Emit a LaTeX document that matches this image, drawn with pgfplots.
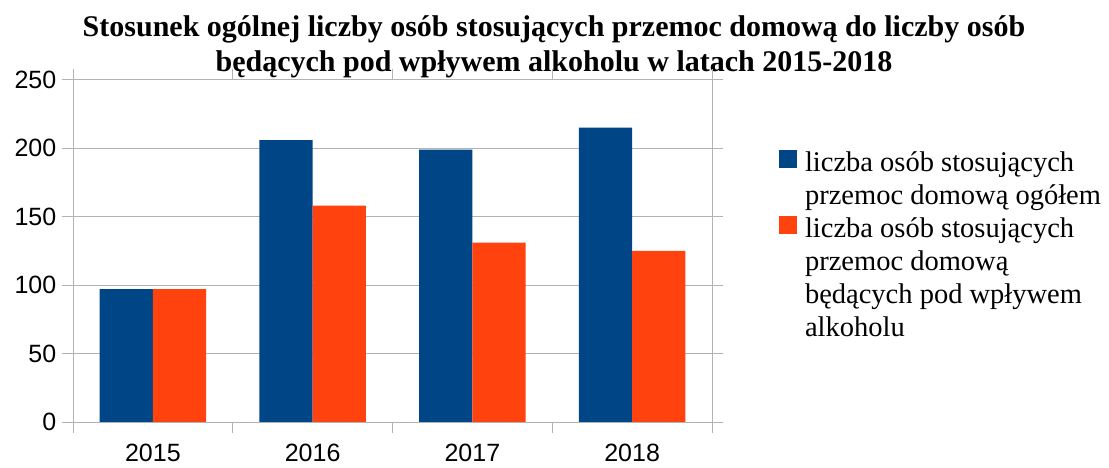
\documentclass[border=0pt]{standalone}
\usepackage{pgfplots}
\pgfplotsset{compat=1.18}
\usepackage{fontspec}
\setmainfont{Liberation Serif}
\newfontfamily\sansf{Liberation Sans}
\definecolor{gridgray}{HTML}{B3B3B3}
\definecolor{sblue}{HTML}{004586}
\definecolor{sorange}{HTML}{FF420E}
\pgfplotstableread{
x a b
0 97 97
1 206 158
2 199 131
3 215 125
}\datatable
\begin{document}
\begin{tikzpicture}[x=1pt,y=1pt]
\useasboundingbox (-73,-46) rectangle (1036,422);
\node[anchor=base, inner sep=0pt, font=\fontsize{30}{35}\selectfont\bfseries] at (481,385) {Stosunek ogólnej liczby osób stosujących przemoc domową do liczby osób};
\node[anchor=base, inner sep=0pt, font=\fontsize{30}{35}\selectfont\bfseries] at (481,350) {będących pod wpływem alkoholu w latach 2015-2018};
\begin{axis}[
  scale only axis, width=639pt, height=342.2pt,
  xmin=-0.5, xmax=3.5, ymin=0, ymax=250,
  ytick={0,50,...,250},
  xtick={-0.5,0.5,1.5,2.5,3.5},
  xticklabels={2015,2016,2017,2018,{}},
  xticklabel style={xshift=79.875pt, anchor=north, inner sep=0pt, yshift=-11pt},
  yticklabel style={anchor=east, inner sep=0pt, xshift=-5.5pt},
  ticklabel style={font=\sansf\fontsize{25}{30}\selectfont},
  /pgf/number format/assume math mode=true,
  ymajorgrids,
  grid style={color=gridgray, line width=0.9pt},
  axis line style={gridgray, line width=0.9pt},
  tick style={gridgray, line width=0.9pt},
  tick align=outside, major tick length=11pt,
  ybar, bar width=53.3pt,
  legend cell align=left,
  legend style={at={(1.1049,0.7978)}, anchor=north west, draw=none, fill=none,
    inner sep=0pt, outer sep=0pt, row sep=0pt,
    font=\fontsize{28.5}{33}\selectfont,
    nodes={inner sep=0pt, text height=23pt, text depth=10pt},
    /tikz/every odd column/.append style={column sep=8pt}},
  mylegend/.style={legend image code/.code={\fill[##1,draw=none] (0pt,-2.5pt) rectangle (18pt,15pt);}},
]
\addplot[fill=sblue, draw=none, bar shift=-26.65pt, mylegend] table[x=x,y=a] {\datatable};
\addlegendentry{liczba osób stosujących}
\addlegendimage{empty legend}
\addlegendentry{przemoc domową ogółem}
\addplot[fill=sorange, draw=none, bar shift=26.65pt, mylegend] table[x=x,y=b] {\datatable};
\addlegendentry{liczba osób stosujących}
\addlegendimage{empty legend}
\addlegendentry{przemoc domową}
\addlegendimage{empty legend}
\addlegendentry{będących pod wpływem}
\addlegendimage{empty legend}
\addlegendentry{alkoholu}
\end{axis}
\end{tikzpicture}
\end{document}
